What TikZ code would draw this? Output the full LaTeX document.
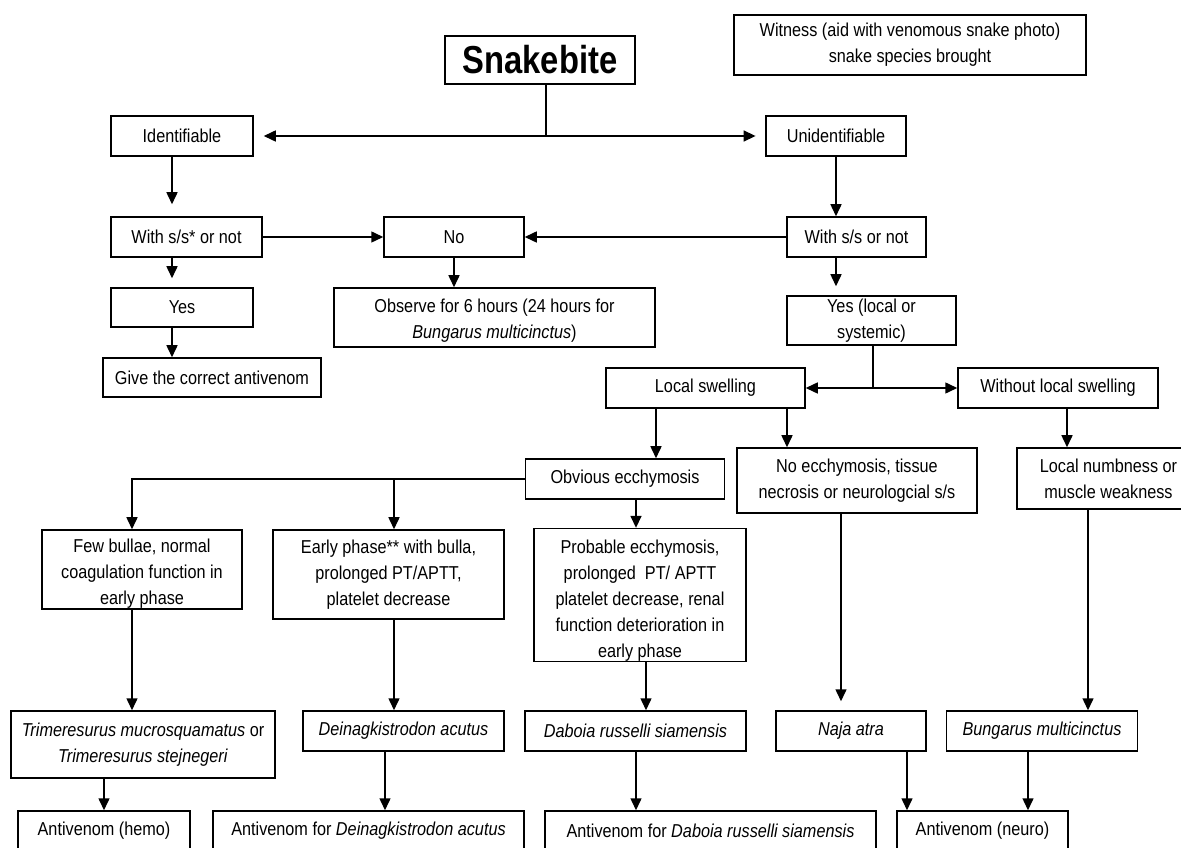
\documentclass[tikz,border=0pt]{standalone}
\usepackage{fontspec}
\setmainfont{Liberation Sans}[FakeStretch=0.87]
\newfontfamily\titlefont{Liberation Sans}[FakeStretch=0.84]
\usetikzlibrary{arrows.meta}
\begin{document}
\begin{tikzpicture}[x=0.6pt,y=-0.6pt,
  bx/.style n args={2}{draw, line width=0.9pt, inner sep=0pt, align=center,
    minimum width=#1*0.6pt, minimum height=#2*0.6pt,
    font=\fontsize{11.2}{15.6}\selectfont},
  ln/.style={line width=0.9pt},
  arr/.style={line width=0.9pt, -{Triangle[length=7.2pt,width=6.6pt]}}]
\useasboundingbox (0,0) rectangle (1181,848);
\clip (0,0) rectangle (1181,848);
% boxes
\node[bx={190}{48}] (snake) at (540,60) {\titlefont\bfseries\fontsize{23.4}{28}\selectfont Snakebite};
\node[bx={352}{60}] (witness) at (910,45) {Witness (aid with venomous snake photo)\\snake species brought};
\node[bx={142}{40}] (ident) at (182,136) {Identifiable};
\node[bx={140}{40}] (unident) at (836,136) {Unidentifiable};
\node[bx={151}{40}] (withss1) at (186.5,237) {With s/s* or not};
\node[bx={140}{40}] (no) at (454,237) {No};
\node[bx={139}{40}] (withss2) at (856.5,237) {With s/s or not};
\node[bx={142}{39}] (yes1) at (182,307.5) {Yes};
\node[bx={321}{59}] (observe) at (494.5,317.5) {\rule{0pt}{12pt}Observe for 6 hours (24 hours for\\\textit{Bungarus multicinctus})};
\node[bx={218}{39}] (give) at (212,377.5) {Give the correct antivenom};
\node[bx={169}{49}] (yes2) at (871.5,320.5) {Yes (local or\\systemic)};
\node[bx={199}{40}] (local) at (705.5,388) {Local swelling};
\node[bx={200}{40}] (without) at (1058,388) {Without local swelling};
\node[bx={199}{40}] (obvious) at (625,479) {Obvious ecchymosis};
\node[bx={240}{65}] (noecchy) at (857,480.5) {No ecchymosis, tissue\\necrosis or neurologcial s/s};
\node[bx={183}{61}] (numb) at (1108.5,478.5) {Local numbness or\\muscle weakness};
\node[bx={200}{79}] (few) at (142,569.5) {\rule{0pt}{13pt}Few bullae, normal\\coagulation function in\\early phase};
\node[bx={231}{89}] (early) at (388.5,574.5) {Early phase** with bulla,\\prolonged PT/APTT,\\platelet decrease};
\node[bx={212}{130}] (probable) at (640,595) {\rule{0pt}{15pt}Probable ecchymosis,\\prolonged \ PT/ APTT\\platelet decrease, renal\\function deterioration in\\early phase};
\node[bx={264}{67}] (trim) at (143,744.5) {\textit{Trimeresurus mucrosquamatus} or\\\textit{Trimeresurus stejnegeri}};
\node[bx={201}{40}] (dein) at (403.5,731) {\textit{Deinagkistrodon acutus}};
\node[bx={221}{40}] (daboia) at (635.5,731) {\textit{Daboia russelli siamensis}};
\node[bx={150}{40}] (naja) at (851,731) {\textit{Naja atra}};
\node[bx={191}{40}] (bung) at (1042,731) {\textit{Bungarus multicinctus}};
\node[bx={172}{40}] (avhemo) at (104,831) {Antivenom (hemo)};
\node[bx={311}{40}] (avdein) at (368.5,831) {Antivenom for \textit{Deinagkistrodon acutus}};
\node[bx={331}{40}] (avdab) at (710.5,831) {Antivenom for \textit{Daboia russelli siamensis}};
\node[bx={171}{40}] (avneuro) at (982.5,831) {Antivenom (neuro)};
% column helpers
\coordinate (j1) at (546,136);
\coordinate (c172) at (172,0);
\coordinate (c873) at (873,0);
\coordinate (c656) at (656,0);
\coordinate (c787) at (787,0);
\coordinate (c1067) at (1067,0);
\coordinate (c132) at (132,0);
\coordinate (c394) at (394,0);
\coordinate (c636) at (636,0);
\coordinate (c646) at (646,0);
\coordinate (c841) at (841,0);
\coordinate (c1088) at (1088,0);
\coordinate (c385) at (385,0);
\coordinate (c907) at (907,0);
\coordinate (c1028) at (1028,0);
% connectors
\draw[ln] (snake.south -| j1) -- (j1);
\draw[arr, shorten >=6pt] (j1) -- (ident.east);
\draw[arr, shorten >=5.8pt] (j1) -- (unident.west);
\draw[arr, shorten >=7.2pt] (ident.south -| c172) -- (withss1.north -| c172);
\draw[arr] (withss1.east) -- (no.west);
\draw[arr] (withss2.west) -- (no.east);
\draw[arr] (unident.south) -- (unident.south |- withss2.north);
\draw[arr, shorten >=5.4pt] (withss1.south -| c172) -- (yes1.north -| c172);
\draw[arr] (yes1.south -| c172) -- (give.north -| c172);
\draw[arr] (no.south) -- (no.south |- observe.north);
\draw[arr, shorten >=5.4pt] (withss2.south -| unident.south) -- (yes2.north -| unident.south);
\coordinate (j2) at (c873 |- local.east);
\draw[ln] (yes2.south -| c873) -- (j2);
\draw[arr] (j2) -- (local.east);
\draw[arr] (j2) -- (without.west);
\draw[arr] (local.south -| c656) -- (obvious.north -| c656);
\draw[arr] (local.south -| c787) -- (noecchy.north -| c787);
\draw[arr] (without.south -| c1067) -- (numb.north -| c1067);
\draw[arr] (obvious.west) -| (few.north -| c132);
\draw[arr] (obvious.west -| c394) -- (early.north -| c394);
\draw[arr] (obvious.south -| c636) -- (probable.north -| c636);
\draw[arr] (few.south -| c132) -- (trim.north -| c132);
\draw[arr] (early.south -| c394) -- (dein.north -| c394);
\draw[arr] (probable.south -| c646) -- (daboia.north -| c646);
\draw[arr, shorten >=5.4pt] (noecchy.south -| c841) -- (naja.north -| c841);
\draw[arr] (numb.south -| c1088) -- (bung.north -| c1088);
\draw[arr] (trim.south -| avhemo.north) -- (avhemo.north);
\draw[arr] (dein.south -| c385) -- (avdein.north -| c385);
\draw[arr] (daboia.south -| c636) -- (avdab.north -| c636);
\draw[arr] (naja.south -| c907) -- (avneuro.north -| c907);
\draw[arr] (bung.south -| c1028) -- (avneuro.north -| c1028);
\end{tikzpicture}
\end{document}
